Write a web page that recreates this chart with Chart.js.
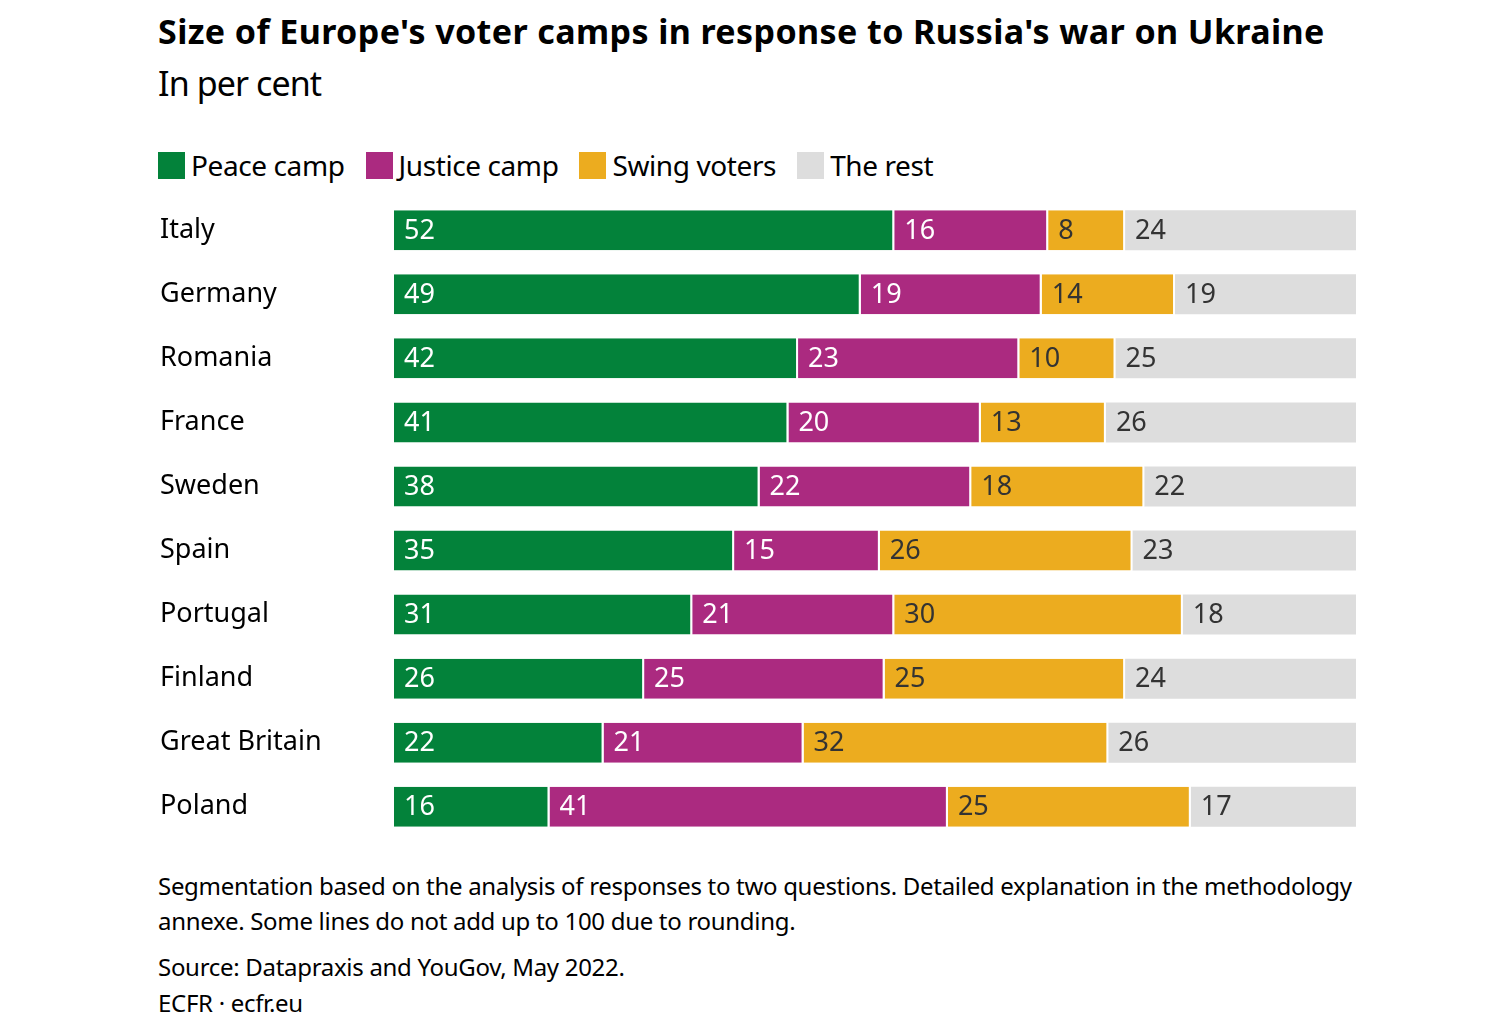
<!DOCTYPE html>
<html>
<head>
<meta charset="utf-8">
<script src="https://cdn.jsdelivr.net/npm/chart.js@4"></script>
<style>
  body { margin: 0; background: #fff; font-family: "Noto Sans", sans-serif; color: #000; }
  #wrap { position: relative; width: 1504px; height: 1030px; overflow: hidden; }
  .t { position: absolute; left: 158px; white-space: nowrap; }
  #title { top: 8px; font-size: 34px; font-weight: 700; letter-spacing: 0.4px; }
  #sub { top: 60px; font-size: 34px; letter-spacing: -0.9px; }
  #legend { top: 146px; font-size: 28px; display: flex; letter-spacing: -0.4px; }
  #legend span.it { display: flex; align-items: center; margin-right: 21px; }
  #legend i { display: inline-block; width: 27px; height: 27px; margin-right: 6px; }
  .note { font-size: 24px; letter-spacing: -0.3px; }
  #chartBox { position: absolute; left: 0; top: 182px; width: 1504px; height: 673px; }
</style>
</head>
<body>
<div id="wrap">
  <div class="t" id="title">Size of Europe's voter camps in response to Russia's war on Ukraine</div>
  <div class="t" id="sub">In per cent</div>
  <div class="t" id="legend"></div>
  <div id="chartBox"><canvas id="chart"></canvas></div>
  <div class="t note" style="top:869px">Segmentation based on the analysis of responses to two questions. Detailed explanation in the methodology</div>
  <div class="t note" style="top:904px">annexe. Some lines do not add up to 100 due to rounding.</div>
  <div class="t note" style="top:950px">Source: Datapraxis and YouGov, May 2022.</div>
  <div class="t note" style="top:986px">ECFR · ecfr.eu</div>
</div>
<script>
const countries = ["Italy", "Germany", "Romania", "France", "Sweden", "Spain", "Portugal", "Finland", "Great Britain", "Poland"];
const peace = [52, 49, 42, 41, 38, 35, 31, 26, 22, 16];
const justice = [16, 19, 23, 20, 22, 15, 21, 25, 21, 41];
const swing = [8, 14, 10, 13, 18, 26, 30, 25, 32, 25];
const rest = [24, 19, 25, 26, 22, 23, 18, 24, 26, 17];

const seriesNames = ["Peace camp", "Justice camp", "Swing voters", "The rest"];
const seriesValues = [peace, justice, swing, rest];
const colors = ["#03823a", "#ab2a80", "#ecac1f", "#dddddd"];
const labelColors = ["#ffffff", "#ffffff", "#333333", "#333333"];

// legend
const legend = document.getElementById("legend");
seriesNames.forEach((n, i) => {
  const s = document.createElement("span");
  s.className = "it";
  s.innerHTML = `<i style="background:${colors[i]}"></i>${n}`;
  legend.appendChild(s);
});

// rows are stretched to the full width (some rows sum to 99 or 101)
const totals = countries.map((c, i) => seriesValues.reduce((a, v) => a + v[i], 0));

const valueLabels = {
  id: "valueLabels",
  afterDatasetsDraw(chart) {
    const { ctx } = chart;
    ctx.save();
    ctx.font = "27px 'Noto Sans'";
    ctx.textBaseline = "middle";
    ctx.textAlign = "left";
    chart.data.datasets.forEach((ds, di) => {
      chart.getDatasetMeta(di).data.forEach((bar, i) => {
        ctx.fillStyle = labelColors[di];
        ctx.fillText(seriesValues[di][i], bar.base + 10, bar.y + 1);
      });
    });
    ctx.restore();
  },
};

new Chart(document.getElementById("chart"), {
  type: "bar",
  data: {
    labels: countries,
    datasets: seriesNames.map((n, di) => ({
      label: n,
      data: seriesValues[di].map((v, i) => (v * 100) / totals[i]),
      backgroundColor: colors[di],
      borderColor: "#ffffff",
      borderWidth: { left: 0, right: di < 3 ? 2 : 0, top: 0, bottom: 0 },
      borderSkipped: false,
      barPercentage: 0.625,
      categoryPercentage: 1,
    })),
  },
  options: {
    indexAxis: "y",
    responsive: true,
    maintainAspectRatio: false,
    animation: false,
    layout: { padding: { left: 160, right: 148, top: 0, bottom: 12 } },
    scales: {
      x: { stacked: true, min: 0, max: 100, display: false },
      y: {
        stacked: true,
        border: { display: false },
        grid: { display: false },
        afterFit: (s) => { s.width = 234; },
        ticks: {
          crossAlign: "far",
          color: "#000",
          padding: 0,
          font: { family: "Noto Sans", size: 27 },
        },
      },
    },
    plugins: { legend: { display: false }, tooltip: { enabled: false } },
  },
  plugins: [valueLabels],
});
</script>
</body>
</html>
